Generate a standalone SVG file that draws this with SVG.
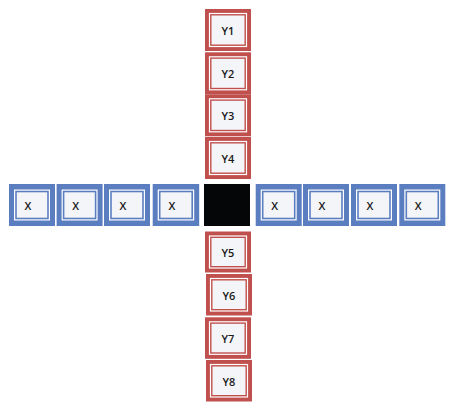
<svg xmlns="http://www.w3.org/2000/svg" width="453" height="411" viewBox="0 0 453 411">
<style>
.ro{fill:#C0504D}
.bo{fill:#5B7EC0}
.ring{fill:none;stroke:#FFFFFF;stroke-width:1.2}
.in{fill:#F4F5F8}
.t{font-family:"Open Sans","Liberation Sans",sans-serif;font-size:11px;font-weight:600;fill:#1A1A1A;text-anchor:middle;dominant-baseline:central}
</style>
<rect width="453" height="411" fill="#FFFFFF"/>
<g id="Y1"><rect class="ro" x="205" y="9" width="46" height="42"/><rect class="ring" x="209.5" y="13.5" width="37" height="33"/><rect class="in" x="211.5" y="15.5" width="33" height="29"/><text class="t" x="228" y="30.5">Y1</text></g>
<g id="Y2"><rect class="ro" x="205" y="52.3" width="46" height="42"/><rect class="ring" x="209.5" y="56.8" width="37" height="33"/><rect class="in" x="211.5" y="58.8" width="33" height="29"/><text class="t" x="228" y="73.8">Y2</text></g>
<g id="Y3"><rect class="ro" x="205" y="94.3" width="46" height="42"/><rect class="ring" x="209.5" y="98.8" width="37" height="33"/><rect class="in" x="211.5" y="100.8" width="33" height="29"/><text class="t" x="228" y="115.8">Y3</text></g>
<g id="Y4"><rect class="ro" x="205" y="137" width="46" height="42"/><rect class="ring" x="209.5" y="141.5" width="37" height="33"/><rect class="in" x="211.5" y="143.5" width="33" height="29"/><text class="t" x="228" y="158.5">Y4</text></g>
<g id="center"><rect x="204" y="184" width="46" height="42" fill="#050608"/></g>
<g id="Y5"><rect class="ro" x="205" y="231.5" width="46" height="41"/><rect class="ring" x="209.5" y="236" width="37" height="32"/><rect class="in" x="211.5" y="238" width="33" height="28"/><text class="t" x="228" y="252.5">Y5</text></g>
<g id="Y6"><rect class="ro" x="206" y="274" width="46" height="41.5"/><rect class="ring" x="210.5" y="278.5" width="37" height="32.5"/><rect class="in" x="212.5" y="280.5" width="33" height="28.5"/><text class="t" x="229" y="295.5">Y6</text></g>
<g id="Y7"><rect class="ro" x="205" y="317.3" width="46" height="41.5"/><rect class="ring" x="209.5" y="321.8" width="37" height="32.5"/><rect class="in" x="211.5" y="323.8" width="33" height="28.5"/><text class="t" x="228" y="338.8">Y7</text></g>
<g id="Y8"><rect class="ro" x="206" y="360" width="46" height="41.5"/><rect class="ring" x="210.5" y="364.5" width="37" height="32.5"/><rect class="in" x="212.5" y="366.5" width="33" height="28.5"/><text class="t" x="229" y="381.5">Y8</text></g>
<g id="X1"><rect class="bo" x="9" y="184" width="46" height="42"/><rect class="ring" x="14.6" y="190.1" width="34.8" height="29.8"/><rect class="in" x="16.8" y="192.3" width="30.4" height="25.4"/><text class="t" x="28" y="205">X</text></g>
<g id="X2"><rect class="bo" x="56.6" y="184" width="46" height="42"/><rect class="ring" x="62.2" y="190.1" width="34.8" height="29.8"/><rect class="in" x="64.4" y="192.3" width="30.4" height="25.4"/><text class="t" x="75.6" y="205">X</text></g>
<g id="X3"><rect class="bo" x="104" y="184" width="46" height="42"/><rect class="ring" x="109.6" y="190.1" width="34.8" height="29.8"/><rect class="in" x="111.8" y="192.3" width="30.4" height="25.4"/><text class="t" x="123" y="205">X</text></g>
<g id="X4"><rect class="bo" x="152.7" y="184" width="46.5" height="42"/><rect class="ring" x="158.3" y="190.1" width="35.3" height="29.8"/><rect class="in" x="160.5" y="192.3" width="30.9" height="25.4"/><text class="t" x="172" y="205">X</text></g>
<g id="X5"><rect class="bo" x="255.7" y="184" width="46" height="42"/><rect class="ring" x="261.3" y="190.1" width="34.8" height="29.8"/><rect class="in" x="263.5" y="192.3" width="30.4" height="25.4"/><text class="t" x="274.7" y="205">X</text></g>
<g id="X6"><rect class="bo" x="303" y="184" width="46" height="42"/><rect class="ring" x="308.6" y="190.1" width="34.8" height="29.8"/><rect class="in" x="310.8" y="192.3" width="30.4" height="25.4"/><text class="t" x="322" y="205">X</text></g>
<g id="X7"><rect class="bo" x="351" y="184" width="46" height="42"/><rect class="ring" x="356.6" y="190.1" width="34.8" height="29.8"/><rect class="in" x="358.8" y="192.3" width="30.4" height="25.4"/><text class="t" x="370" y="205">X</text></g>
<g id="X8"><rect class="bo" x="399.3" y="184" width="46" height="42"/><rect class="ring" x="404.9" y="190.1" width="34.8" height="29.8"/><rect class="in" x="407.1" y="192.3" width="30.4" height="25.4"/><text class="t" x="418.3" y="205">X</text></g>
<g id="connectors"/>
</svg>
